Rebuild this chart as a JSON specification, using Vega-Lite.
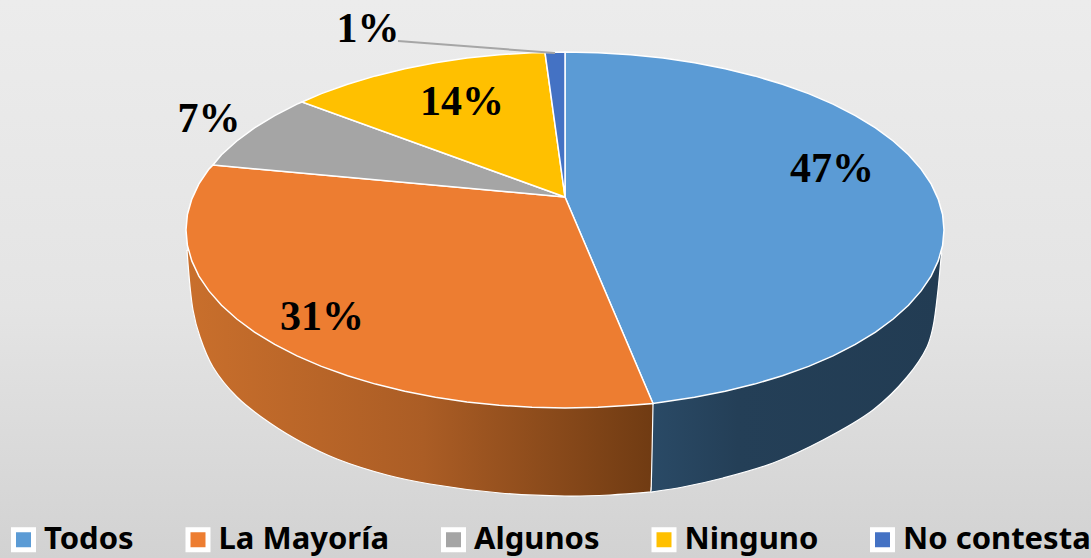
{
"$schema":"https://vega.github.io/schema/vega-lite/v6.json",
"width":1091,"height":558,"padding":0,"autosize":{"type":"none"},
"background":"#e3e3e3",
"view":{"stroke":null,"fill":{"gradient":"linear","x1":0,"y1":0,"x2":0,"y2":1,"stops":[{"offset":0,"color":"#ececec"},{"offset":0.55,"color":"#e4e4e4"},{"offset":1,"color":"#d2d2d2"}]}},
"datasets":{
"slices":[
{"slice":"Todos","seq":0,"x":565,"y":197},{"slice":"Todos","seq":1,"x":565,"y":52},{"slice":"Todos","seq":2,"x":598,"y":52.7},{"slice":"Todos","seq":3,"x":630.8,"y":54.7},{"slice":"Todos","seq":4,"x":663.1,"y":58.1},{"slice":"Todos","seq":5,"x":694.6,"y":62.7},{"slice":"Todos","seq":6,"x":725.2,"y":68.7},{"slice":"Todos","seq":7,"x":754.5,"y":75.9},{"slice":"Todos","seq":8,"x":782.4,"y":84.2},{"slice":"Todos","seq":9,"x":808.6,"y":93.6},{"slice":"Todos","seq":10,"x":833,"y":104.1},{"slice":"Todos","seq":11,"x":855.3,"y":115.6},{"slice":"Todos","seq":12,"x":875.5,"y":127.9},{"slice":"Todos","seq":13,"x":893.2,"y":141},{"slice":"Todos","seq":14,"x":908.5,"y":154.8},{"slice":"Todos","seq":15,"x":921.1,"y":169.1},{"slice":"Todos","seq":16,"x":931.1,"y":183.9},{"slice":"Todos","seq":17,"x":938.2,"y":199.1},{"slice":"Todos","seq":18,"x":942.6,"y":214.5},{"slice":"Todos","seq":19,"x":944,"y":230},{"slice":"Todos","seq":20,"x":942.6,"y":245.5},{"slice":"Todos","seq":21,"x":938.2,"y":260.9},{"slice":"Todos","seq":22,"x":931.1,"y":276.1},{"slice":"Todos","seq":23,"x":921.1,"y":290.9},{"slice":"Todos","seq":24,"x":908.5,"y":305.2},{"slice":"Todos","seq":25,"x":893.2,"y":319},{"slice":"Todos","seq":26,"x":875.5,"y":332.1},{"slice":"Todos","seq":27,"x":855.3,"y":344.4},{"slice":"Todos","seq":28,"x":833,"y":355.9},{"slice":"Todos","seq":29,"x":808.6,"y":366.4},{"slice":"Todos","seq":30,"x":782.4,"y":375.8},{"slice":"Todos","seq":31,"x":754.5,"y":384.1},{"slice":"Todos","seq":32,"x":725.2,"y":391.3},{"slice":"Todos","seq":33,"x":694.6,"y":397.3},{"slice":"Todos","seq":34,"x":663.1,"y":401.9},{"slice":"Todos","seq":35,"x":653,"y":403.5},{"slice":"Todos","seq":36,"x":565,"y":197},
{"slice":"La Mayoría","seq":0,"x":565,"y":197},{"slice":"La Mayoría","seq":1,"x":653,"y":403.5},{"slice":"La Mayoría","seq":2,"x":630.8,"y":405.3},{"slice":"La Mayoría","seq":3,"x":598,"y":407.3},{"slice":"La Mayoría","seq":4,"x":565,"y":408},{"slice":"La Mayoría","seq":5,"x":532,"y":407.3},{"slice":"La Mayoría","seq":6,"x":499.2,"y":405.3},{"slice":"La Mayoría","seq":7,"x":466.9,"y":401.9},{"slice":"La Mayoría","seq":8,"x":435.4,"y":397.3},{"slice":"La Mayoría","seq":9,"x":404.8,"y":391.3},{"slice":"La Mayoría","seq":10,"x":375.5,"y":384.1},{"slice":"La Mayoría","seq":11,"x":347.6,"y":375.8},{"slice":"La Mayoría","seq":12,"x":321.4,"y":366.4},{"slice":"La Mayoría","seq":13,"x":297,"y":355.9},{"slice":"La Mayoría","seq":14,"x":274.7,"y":344.4},{"slice":"La Mayoría","seq":15,"x":254.5,"y":332.1},{"slice":"La Mayoría","seq":16,"x":236.8,"y":319},{"slice":"La Mayoría","seq":17,"x":221.5,"y":305.2},{"slice":"La Mayoría","seq":18,"x":208.9,"y":290.9},{"slice":"La Mayoría","seq":19,"x":198.9,"y":276.1},{"slice":"La Mayoría","seq":20,"x":191.8,"y":260.9},{"slice":"La Mayoría","seq":21,"x":187.4,"y":245.5},{"slice":"La Mayoría","seq":22,"x":186,"y":230},{"slice":"La Mayoría","seq":23,"x":187.4,"y":214.5},{"slice":"La Mayoría","seq":24,"x":191.8,"y":199.1},{"slice":"La Mayoría","seq":25,"x":198.9,"y":183.9},{"slice":"La Mayoría","seq":26,"x":208.9,"y":169.1},{"slice":"La Mayoría","seq":27,"x":213,"y":165},{"slice":"La Mayoría","seq":28,"x":565,"y":197},
{"slice":"Algunos","seq":0,"x":565,"y":197},{"slice":"Algunos","seq":1,"x":213,"y":165},{"slice":"Algunos","seq":2,"x":221.5,"y":154.8},{"slice":"Algunos","seq":3,"x":236.8,"y":141},{"slice":"Algunos","seq":4,"x":254.5,"y":127.9},{"slice":"Algunos","seq":5,"x":274.7,"y":115.6},{"slice":"Algunos","seq":6,"x":297,"y":104.1},{"slice":"Algunos","seq":7,"x":302,"y":102},{"slice":"Algunos","seq":8,"x":565,"y":197},
{"slice":"Ninguno","seq":0,"x":565,"y":197},{"slice":"Ninguno","seq":1,"x":302,"y":102},{"slice":"Ninguno","seq":2,"x":321.4,"y":93.6},{"slice":"Ninguno","seq":3,"x":347.6,"y":84.2},{"slice":"Ninguno","seq":4,"x":375.5,"y":75.9},{"slice":"Ninguno","seq":5,"x":404.8,"y":68.7},{"slice":"Ninguno","seq":6,"x":435.4,"y":62.7},{"slice":"Ninguno","seq":7,"x":466.9,"y":58.1},{"slice":"Ninguno","seq":8,"x":499.2,"y":54.7},{"slice":"Ninguno","seq":9,"x":532,"y":52.7},{"slice":"Ninguno","seq":10,"x":545,"y":52.4},{"slice":"Ninguno","seq":11,"x":565,"y":197},
{"slice":"No contesta","seq":0,"x":565,"y":197},{"slice":"No contesta","seq":1,"x":545,"y":52.4},{"slice":"No contesta","seq":2,"x":565,"y":52},{"slice":"No contesta","seq":3,"x":565,"y":197}
],
"wallOrange":[
{"seq":0,"x":187,"y":250},{"seq":1,"x":193,"y":310},{"seq":2,"x":200,"y":337},{"seq":3,"x":213,"y":367},{"seq":4,"x":237,"y":397},{"seq":5,"x":270,"y":423},{"seq":6,"x":303,"y":443},{"seq":7,"x":337,"y":459},{"seq":8,"x":387,"y":475},{"seq":9,"x":430,"y":484},{"seq":10,"x":500,"y":493},{"seq":11,"x":565,"y":496},{"seq":12,"x":610,"y":495},{"seq":13,"x":649,"y":492.2},{"seq":14,"x":651,"y":492},{"seq":15,"x":651.2,"y":489},{"seq":16,"x":653,"y":404},{"seq":17,"x":400,"y":300},{"seq":18,"x":187,"y":250}
],
"wallBlue":[
{"seq":0,"x":653,"y":404},{"seq":1,"x":651.2,"y":489},{"seq":2,"x":651,"y":492},{"seq":3,"x":654,"y":491.6},{"seq":4,"x":683,"y":487},{"seq":5,"x":723,"y":478},{"seq":6,"x":773,"y":463},{"seq":7,"x":823,"y":440},{"seq":8,"x":873,"y":410},{"seq":9,"x":907,"y":377},{"seq":10,"x":927,"y":347},{"seq":11,"x":933,"y":327},{"seq":12,"x":938,"y":290},{"seq":13,"x":941,"y":258},{"seq":14,"x":941.5,"y":253},{"seq":15,"x":936,"y":250},{"seq":16,"x":800,"y":300},{"seq":17,"x":653,"y":404}
],
"labels":[
{"slice":"Todos","value":47,"label":"47%","x":832,"y":169},
{"slice":"La Mayoría","value":31,"label":"31%","x":322,"y":317},
{"slice":"Algunos","value":7,"label":"7%","x":209,"y":119},
{"slice":"Ninguno","value":14,"label":"14%","x":462,"y":102},
{"slice":"No contesta","value":1,"label":"1%","x":368,"y":29}
],
"leader":[{"x":398,"y":41,"x2":555,"y2":53}]
},
"layer":[
{"data":{"name":"wallOrange"},
"mark":{"type":"line","interpolate":"catmull-rom","stroke":"#ffffff","strokeWidth":1.2,"fill":{"gradient":"linear","x1":0,"y1":0,"x2":1,"y2":0,"stops":[{"offset":0,"color":"#c96f2c"},{"offset":0.5,"color":"#ab5d25"},{"offset":1,"color":"#6e3a12"}]}},
"encoding":{"x":{"field":"x","type":"quantitative","scale":{"domain":[0,1091],"nice":false,"zero":false},"axis":null},"y":{"field":"y","type":"quantitative","scale":{"domain":[558,0],"nice":false,"zero":false},"axis":null},"order":{"field":"seq","type":"quantitative"}}},
{"data":{"name":"wallBlue"},
"mark":{"type":"line","interpolate":"catmull-rom","stroke":"#ffffff","strokeWidth":1.2,"fill":{"gradient":"linear","x1":0,"y1":0,"x2":1,"y2":0,"stops":[{"offset":0,"color":"#2a4a66"},{"offset":0.3,"color":"#243f57"},{"offset":1,"color":"#223c53"}]}},
"encoding":{"x":{"field":"x","type":"quantitative"},"y":{"field":"y","type":"quantitative"},"order":{"field":"seq","type":"quantitative"}}},
{"data":{"name":"slices"},
"mark":{"type":"line","interpolate":"linear","stroke":"#ffffff","strokeWidth":1.5},
"encoding":{"x":{"field":"x","type":"quantitative"},"y":{"field":"y","type":"quantitative"},"order":{"field":"seq","type":"quantitative"},"detail":{"field":"slice"},
"fill":{"field":"slice","type":"nominal","scale":{"domain":["Todos","La Mayoría","Algunos","Ninguno","No contesta"],"range":["#5b9bd5","#ed7d31","#a5a5a5","#ffc000","#4472c4"]},
"legend":{"title":null,"orient":"none","legendX":8,"legendY":524,"direction":"horizontal","columns":5,"columnPadding":43.5,"symbolType":"square","symbolSize":400,"symbolStrokeColor":"#ffffff","symbolStrokeWidth":5,"symbolOpacity":1,"labelFont":"Noto Sans","labelFontWeight":"bold","labelFontSize":31,"labelColor":"#000000","labelOffset":5,"labelLimit":400}}}},
{"data":{"name":"leader"},
"mark":{"type":"rule","color":"#a6a6a6","strokeWidth":2},
"encoding":{"x":{"field":"x","type":"quantitative"},"y":{"field":"y","type":"quantitative"},"x2":{"field":"x2"},"y2":{"field":"y2"}}},
{"data":{"name":"labels"},
"mark":{"type":"text","font":"Liberation Serif","fontWeight":"bold","fontSize":42,"color":"#000000","align":"center","baseline":"middle"},
"encoding":{"x":{"field":"x","type":"quantitative"},"y":{"field":"y","type":"quantitative"},"text":{"field":"label","type":"nominal"}}}
]
}
